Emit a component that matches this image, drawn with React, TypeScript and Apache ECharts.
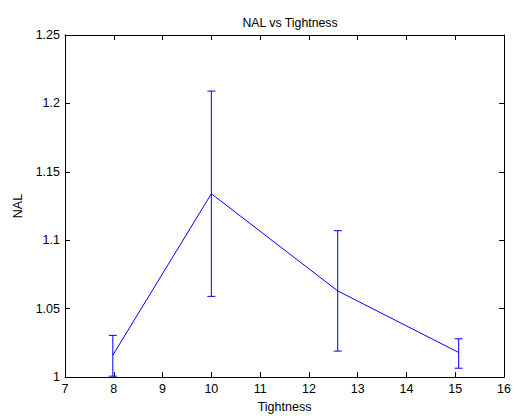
import React, { useEffect, useRef } from "react";
import * as echarts from "echarts";

const xValues = [7.98, 10.0, 12.59, 15.07];
const yValues = [1.016, 1.134, 1.063, 1.018];
const yLower = [1.0007, 1.059, 1.019, 1.0065];
const yUpper = [1.0305, 1.209, 1.107, 1.028];

const FONT = "'Liberation Sans', Arial, sans-serif";
const FS = 12.5;
const BLUE = "#0000ff";

export default function App() {
  const ref = useRef<HTMLDivElement>(null);
  useEffect(() => {
    document.body.style.margin = "0";
    const chart = echarts.init(ref.current!, null, { renderer: "svg" });
    const lineData = xValues.map((x, i) => [x, yValues[i]]);
    const errData = xValues.map((x, i) => [x, yLower[i], yUpper[i]]);
    const axisLine = { show: true, lineStyle: { color: "#000", width: 1 } };
    const tickStyle = { show: true, inside: true, length: 5, lineStyle: { color: "#000" } };
    chart.setOption({
      animation: false,
      backgroundColor: "#fff",
      title: {
        text: "NAL vs Tightness",
        left: 285,
        top: 12,
        textAlign: "center",
        textStyle: { fontFamily: FONT, fontSize: 12.3, fontWeight: "normal", color: "#000" },
      },
      grid: { left: 65, right: 9, top: 35, bottom: 37, containLabel: false },
      xAxis: [
        {
          type: "value",
          min: 7,
          max: 16,
          interval: 1,
          position: "bottom",
          name: "Tightness",
          nameLocation: "middle",
          nameGap: 22,
          nameTextStyle: { fontFamily: FONT, fontSize: FS, color: "#000" },
          axisLine,
          axisTick: tickStyle,
          splitLine: { show: false },
          axisLabel: { fontFamily: FONT, fontSize: FS, color: "#000", margin: 5 },
        },
        {
          type: "value",
          min: 7,
          max: 16,
          interval: 1,
          position: "top",
          axisLine,
          axisTick: tickStyle,
          splitLine: { show: false },
          axisLabel: { show: false },
        },
      ],
      yAxis: [
        {
          type: "value",
          min: 1,
          max: 1.25,
          interval: 0.05,
          position: "left",
          name: "NAL",
          nameLocation: "middle",
          nameGap: 35,
          nameRotate: 90,
          nameTextStyle: { fontFamily: FONT, fontSize: FS, color: "#000" },
          axisLine,
          axisTick: tickStyle,
          splitLine: { show: false },
          axisLabel: {
            fontFamily: FONT,
            fontSize: FS,
            color: "#000",
            margin: 5,
            formatter: (v: number) => String(parseFloat(v.toFixed(2))),
          },
        },
        {
          type: "value",
          min: 1,
          max: 1.25,
          interval: 0.05,
          position: "right",
          axisLine,
          axisTick: tickStyle,
          splitLine: { show: false },
          axisLabel: { show: false },
        },
      ],
      series: [
        {
          type: "line",
          data: lineData,
          showSymbol: false,
          symbol: "none",
          lineStyle: { color: BLUE, width: 1 },
          itemStyle: { color: BLUE },
        },
        {
          type: "custom",
          data: errData,
          renderItem: (params: any, api: any) => {
            const x = api.value(0);
            const lo = api.coord([x, api.value(1)]);
            const hi = api.coord([x, api.value(2)]);
            const cap = 4;
            const style = { stroke: BLUE, lineWidth: 1, fill: "none" };
            return {
              type: "group",
              children: [
                { type: "line", shape: { x1: lo[0], y1: lo[1], x2: hi[0], y2: hi[1] }, style },
                { type: "line", shape: { x1: hi[0] - cap, y1: hi[1], x2: hi[0] + cap, y2: hi[1] }, style },
                { type: "line", shape: { x1: lo[0] - cap, y1: lo[1], x2: lo[0] + cap, y2: lo[1] }, style },
              ],
            };
          },
          z: 3,
        },
      ],
    });
    return () => chart.dispose();
  }, []);
  return <div ref={ref} style={{ width: 514, height: 418 }} />;
}
